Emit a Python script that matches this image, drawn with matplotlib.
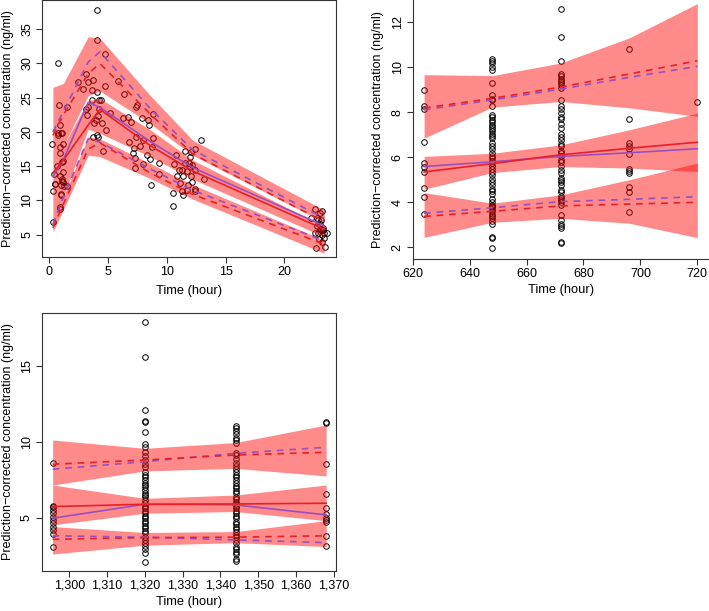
"""
VPC panels: prediction-corrected concentration vs time (3 dosing periods)
"""
import matplotlib
matplotlib.use('Agg')
import matplotlib.pyplot as plt
from matplotlib.ticker import FuncFormatter
import numpy as np

plt.rcParams['font.family'] = ['Liberation Sans', 'DejaVu Sans']

C_BAND = '#FF0000'
C_OBS = '#E8202A'
C_SIM = '#9B4FBF'
C_AX = '#333333'
FS = 9

# ── Panel 1: first dose (0-24 h) ─────────────────────────────────────────────
obs1_t = [0.26, 0.34, 0.34, 0.43, 0.48, 0.68, 0.77, 0.85, 0.77, 0.91, 0.99, 0.91, 0.91, 0.94,
          0.99, 0.96, 0.94, 0.92, 1.13, 1.19, 1.10, 1.08, 1.19, 1.25, 1.19, 1.48, 1.48, 1.00, 1.05,
          0.74, 1.08, 0.45,
          2.41, 2.84, 3.12, 3.26, 3.12, 3.23, 3.32, 3.69, 3.60, 3.66, 3.69, 3.83, 3.94, 4.03,
          4.03, 4.03, 4.03, 4.11, 4.17, 4.20, 4.26, 4.40, 4.48, 4.54, 4.74, 4.77, 4.82, 5.16,
          5.82, 6.30, 6.35, 6.67, 6.81, 6.98, 7.15, 7.23, 7.32, 7.43, 7.40, 7.29, 7.35, 7.72,
          7.89, 7.94, 7.94, 8.28, 8.43, 8.48, 8.57, 8.62, 8.71, 8.79, 8.85, 9.36, 9.36,
          10.55, 10.50, 10.61, 10.75, 10.84, 11.06, 11.12, 11.29, 11.35, 11.32, 11.40, 11.55,
          11.55, 11.69, 11.69, 11.83, 11.91, 11.95, 12.00, 12.03, 12.09, 12.11, 12.15, 12.37,
          12.37, 12.37, 12.40, 12.91, 13.16,
          22.24, 22.60, 22.60, 22.70, 22.75, 22.84, 22.90, 22.98, 23.04, 23.04, 23.12, 23.18,
          23.23, 23.25, 23.32, 23.40, 23.46, 23.15, 23.04, 23.60, 22.80, 23.30, 23.35]
obs1_c = [18.3, 6.9, 11.4, 13.8, 12.4, 15.1, 30.1, 24.0, 19.8, 21.0, 19.9, 17.8, 16.9, 13.5,
          12.2, 10.9, 9.1, 8.8, 14.2, 15.7, 15.6, 12.9, 12.7, 12.1, 18.3, 12.1, 23.6, 10.8, 13.2,
          19.5, 19.8, 12.4,
          27.3, 26.3, 28.5, 27.3, 23.3, 22.5, 23.7, 27.6, 26.2, 24.7, 19.3, 21.3, 21.8, 37.8,
          33.4, 25.9, 19.5, 19.2, 22.3, 23.4, 24.6, 24.6, 21.3, 17.2, 31.4, 26.7, 20.3, 22.8,
          27.5, 22.0, 25.5, 22.2, 18.5, 21.5, 16.9, 17.6, 14.8, 23.9, 23.7, 16.2, 19.2, 18.0,
          22.1, 18.8, 15.3, 16.7, 21.7, 21.0, 16.1, 12.2, 17.8, 19.1, 22.6, 15.4, 13.8,
          9.2, 11.1, 15.3, 16.6, 13.6, 14.5, 12.5, 14.5, 13.6, 11.4, 10.8, 15.5,
          17.2, 11.5, 14.3, 12.2, 15.4, 14.9, 16.3, 13.6, 17.1, 12.7, 15.2, 17.5,
          14.4, 11.7, 11.4, 18.9, 13.2,
          7.4, 8.7, 5.2, 3.1, 6.2, 7.1, 5.2, 4.4, 8.1, 5.9, 5.7, 5.0,
          4.0, 8.4, 5.7, 5.2, 3.2, 7.1, 6.6, 5.2, 7.4, 6.0, 4.5]

bin1 = [0.3, 1.2, 3.3, 4.3, 8.6, 12.2, 23.4]
p1_hi_upper  = [26.5, 27.1, 33.9, 33.7, 25.3, 18.8, 8.6]
p1_hi_lower  = [19.0, 18.0, 25.3, 26.0, 21.2, 16.6, 6.8]
p1_med_upper = [19.0, 18.0, 24.6, 24.9, 20.3, 15.9, 6.2]
p1_med_lower = [10.5, 10.5, 20.4, 19.8, 16.4, 13.1, 4.7]
p1_lo_upper  = [10.5, 10.5, 19.3, 19.0, 15.4, 12.3, 4.2]
p1_lo_lower  = [5.4, 8.7, 16.6, 16.4, 13.2, 10.2, 2.3]
p1_obs_p95 = [19.5, 22.5, 28.5, 30.0, 22.6, 16.8, 6.9]
p1_sim_p95 = [20.0, 23.0, 30.2, 31.7, 23.4, 17.4, 7.4]
p1_obs_p50 = [14.0, 15.9, 21.0, 23.3, 18.0, 14.3, 5.8]
p1_sim_p50 = [13.5, 16.0, 24.3, 23.6, 18.6, 14.8, 6.3]
p1_obs_p05 = [6.0, 9.5, 17.5, 18.4, 14.0, 10.9, 3.6]
p1_sim_p05 = [6.5, 10.5, 19.0, 18.5, 14.6, 11.5, 4.1]

# ── Panel 2: 624-720 h ───────────────────────────────────────────────────────
obs2_624 = [9.0, 8.3, 8.15, 6.7, 5.75, 5.55, 5.35, 4.65, 4.25, 3.5]
obs2_648 = [10.38, 10.3, 10.2, 10.0, 9.9, 9.3, 8.75, 8.6, 8.55, 8.3, 7.9, 7.8, 7.65, 7.55,
            7.45, 7.35, 7.25, 7.15, 7.05, 6.95, 6.85, 6.65, 6.5, 6.35, 6.2, 6.05, 5.95, 5.85,
            5.75, 5.6, 5.5, 5.35, 5.2, 5.05, 4.9, 4.75, 4.6, 4.5, 4.35, 4.15, 4.0, 3.9, 3.85,
            3.8, 3.7, 3.6, 3.5, 3.4, 3.3, 3.15, 3.05, 2.45, 2.4, 1.95]
obs2_672 = [12.6, 11.35, 10.3, 9.7, 9.6, 9.5, 9.4, 9.3, 9.2, 9.1, 8.55, 8.3, 8.15, 7.95, 7.8,
            7.7, 7.5, 7.3, 7.05, 6.9, 6.75, 6.6, 6.5, 6.3, 6.2, 6.05, 5.9, 5.8, 5.6, 5.45, 5.3,
            5.1, 5.0, 4.9, 4.75, 4.55, 4.45, 4.3, 4.2, 4.1, 4.0, 3.9, 3.45, 3.2, 3.05, 2.95,
            2.85, 2.25, 2.2]
obs2_696 = [10.8, 7.7, 6.65, 6.5, 6.35, 6.15, 5.5, 5.4, 5.3, 4.7, 4.45, 3.55]
obs2_720 = [8.47]

bin2 = [624, 648, 672, 696, 720]
p2_hi_upper  = [9.67, 9.63, 10.19, 11.3, 12.83]
p2_hi_lower  = [6.85, 8.23, 8.48, 8.2, 7.82]
p2_med_upper = [6.04, 6.18, 6.55, 7.22, 7.96]
p2_med_lower = [4.58, 5.32, 5.59, 5.52, 5.37]
p2_lo_upper  = [4.43, 3.96, 4.33, 5.0, 5.74]
p2_lo_lower  = [2.44, 3.11, 3.29, 3.07, 2.43]
p2_obs_p95 = [8.19, 8.62, 9.12, 9.70, 10.29]
p2_sim_p95 = [8.11, 8.55, 9.03, 9.55, 10.04]
p2_obs_p50 = [5.35, 5.72, 6.11, 6.40, 6.67]
p2_sim_p50 = [5.59, 5.80, 6.04, 6.20, 6.38]
p2_obs_p05 = [3.37, 3.60, 3.84, 3.92, 4.00]
p2_sim_p05 = [3.51, 3.76, 4.03, 4.13, 4.25]

# ── Panel 3: 1296-1368 h ─────────────────────────────────────────────────────
obs3_1296 = [8.6, 5.77, 5.68, 5.51, 5.29, 5.07, 4.85, 4.63, 4.36, 4.19, 3.92, 3.09]
obs3_1320 = [17.9, 15.6, 12.08, 11.37, 11.31, 10.63, 9.84, 9.68, 9.35, 9.09, 8.80, 8.54,
             8.36, 8.03, 7.81, 7.66, 7.48, 7.31, 7.15, 7.0, 6.82, 6.65, 6.49, 6.34, 6.16,
             5.95, 5.77, 5.62, 5.46, 5.29, 5.11, 4.96, 4.80, 4.63, 4.45, 4.30, 4.14, 3.97,
             3.75, 3.53, 3.35, 3.15, 2.91, 2.65, 2.10]
obs3_1344 = [11.07, 10.89, 10.71, 10.49, 10.27, 10.12, 9.95, 9.24, 9.13, 8.85, 8.63, 8.41,
             8.19, 7.99, 7.81, 7.66, 7.48, 7.26, 7.09, 6.93, 6.78, 6.60, 6.38, 6.21, 6.05,
             5.90, 5.77, 5.62, 5.46, 5.29, 5.11, 4.96, 4.74, 4.59, 4.41, 4.24, 4.08, 3.86,
             3.71, 3.53, 3.31, 3.09, 2.91, 2.76, 2.60, 2.25, 2.16]
obs3_1368 = [11.33, 11.22, 8.54, 6.54, 5.66, 5.25, 5.0, 4.85, 4.72, 3.80, 3.15]

bin3 = [1295.6, 1320, 1344, 1368]
p3_hi_upper  = [10.12, 9.57, 9.95, 11.11]
p3_hi_lower  = [7.15, 8.08, 8.25, 7.75]
p3_med_upper = [7.15, 6.27, 6.49, 7.15]
p3_med_lower = [4.52, 5.29, 5.40, 4.80]
p3_lo_upper  = [4.41, 4.02, 4.08, 4.80]
p3_lo_lower  = [2.60, 3.18, 3.35, 3.09]
p3_obs_p95 = [8.52, 8.80, 9.13, 9.31]
p3_sim_p95 = [8.19, 8.69, 9.24, 9.64]
p3_obs_p50 = [5.73, 5.88, 5.90, 5.95]
p3_sim_p50 = [4.96, 5.88, 5.84, 5.18]
p3_obs_p05 = [3.57, 3.68, 3.71, 3.80]
p3_sim_p05 = [3.80, 3.71, 3.53, 3.35]


def vpc(ax, t, c, xb, bands, obs, sim):
    ax.plot(t, c, 'o', mfc='none', mec='black', ms=4.0, mew=0.7, zorder=1)
    for lo, hi in bands:
        ax.fill_between(xb, lo, hi, color=C_BAND, alpha=0.46, lw=0, zorder=2)
    for i, (o, s) in enumerate(zip(obs, sim)):
        ls = '-' if i == 1 else (0, (4, 3.5))
        ax.plot(xb, s, color=C_SIM, lw=1.2, ls=ls, zorder=3)
        ax.plot(xb, o, color=C_OBS, lw=1.2, ls=ls, zorder=4)


def style(ax, ylab_x, xlab_y):
    ax.set_facecolor('white')
    ax.tick_params(colors=C_AX, labelcolor='black', labelsize=FS, length=4, width=0.8, pad=2.5)
    for lab in ax.get_yticklabels():
        lab.set_rotation(90)
        lab.set_va('center')
    for sp in ax.spines.values():
        sp.set_color(C_AX)
        sp.set_linewidth(0.8)
    ax.set_xlabel('Time (hour)', fontsize=FS + 0.3)
    ax.set_ylabel('Prediction\u2212corrected concentration (ng/ml)', fontsize=FS)
    ax.xaxis.set_label_coords(0.5, xlab_y)
    ax.xaxis.label.set_va('center')
    ax.yaxis.set_label_coords(ylab_x, 0.5)
    ax.yaxis.label.set_va('center')


fig = plt.figure(figsize=(7.09, 6.11), dpi=100)
fig.patch.set_facecolor('white')

ax1 = fig.add_axes([0.0597, 0.5789, 0.4142, 0.4203])
vpc(ax1, obs1_t, obs1_c, bin1,
    [(p1_hi_lower, p1_hi_upper), (p1_med_lower, p1_med_upper), (p1_lo_lower, p1_lo_upper)],
    [p1_obs_p95, p1_obs_p50, p1_obs_p05], [p1_sim_p95, p1_sim_p50, p1_sim_p05])
ax1.set_xlim(-0.6, 24.4)
ax1.set_ylim(1.7, 39.2)
ax1.set_xticks([0, 5, 10, 15, 20])
ax1.set_yticks([5, 10, 15, 20, 25, 30, 35])
style(ax1, -0.117, -0.131)

ax2 = fig.add_axes([0.5821, 0.5761, 0.4175, 0.4239])
t2 = [624] * len(obs2_624) + [648] * len(obs2_648) + [672] * len(obs2_672) \
    + [696] * len(obs2_696) + [720] * len(obs2_720)
c2 = obs2_624 + obs2_648 + obs2_672 + obs2_696 + obs2_720
vpc(ax2, t2, c2, bin2,
    [(p2_hi_lower, p2_hi_upper), (p2_med_lower, p2_med_upper), (p2_lo_lower, p2_lo_upper)],
    [p2_obs_p95, p2_obs_p50, p2_obs_p05], [p2_sim_p95, p2_sim_p50, p2_sim_p05])
ax2.set_xlim(620, 724)
ax2.set_ylim(1.48, 12.99)
ax2.set_xticks([620, 640, 660, 680, 700, 720])
ax2.set_yticks([2, 4, 6, 8, 10, 12])
style(ax2, -0.118, -0.12)
ax2.spines['top'].set_visible(False)
ax2.spines['right'].set_visible(False)

ax3 = fig.add_axes([0.0588, 0.0660, 0.4151, 0.4213])
t3 = [1295.6] * len(obs3_1296) + [1320] * len(obs3_1320) + [1344] * len(obs3_1344) \
    + [1368] * len(obs3_1368)
c3 = obs3_1296 + obs3_1320 + obs3_1344 + obs3_1368
vpc(ax3, t3, c3, bin3,
    [(p3_hi_lower, p3_hi_upper), (p3_med_lower, p3_med_upper), (p3_lo_lower, p3_lo_upper)],
    [p3_obs_p95, p3_obs_p50, p3_obs_p05], [p3_sim_p95, p3_sim_p50, p3_sim_p05])
ax3.set_xlim(1292.7, 1370.6)
ax3.set_ylim(1.5, 18.48)
ax3.set_xticks([1300, 1310, 1320, 1330, 1340, 1350, 1360, 1370])
ax3.set_yticks([5, 10, 15])
ax3.xaxis.set_major_formatter(FuncFormatter(lambda v, p: f'{int(v):,}'))
style(ax3, -0.113, -0.12)

plt.savefig('out.png', dpi=100, facecolor='white')
plt.close()
